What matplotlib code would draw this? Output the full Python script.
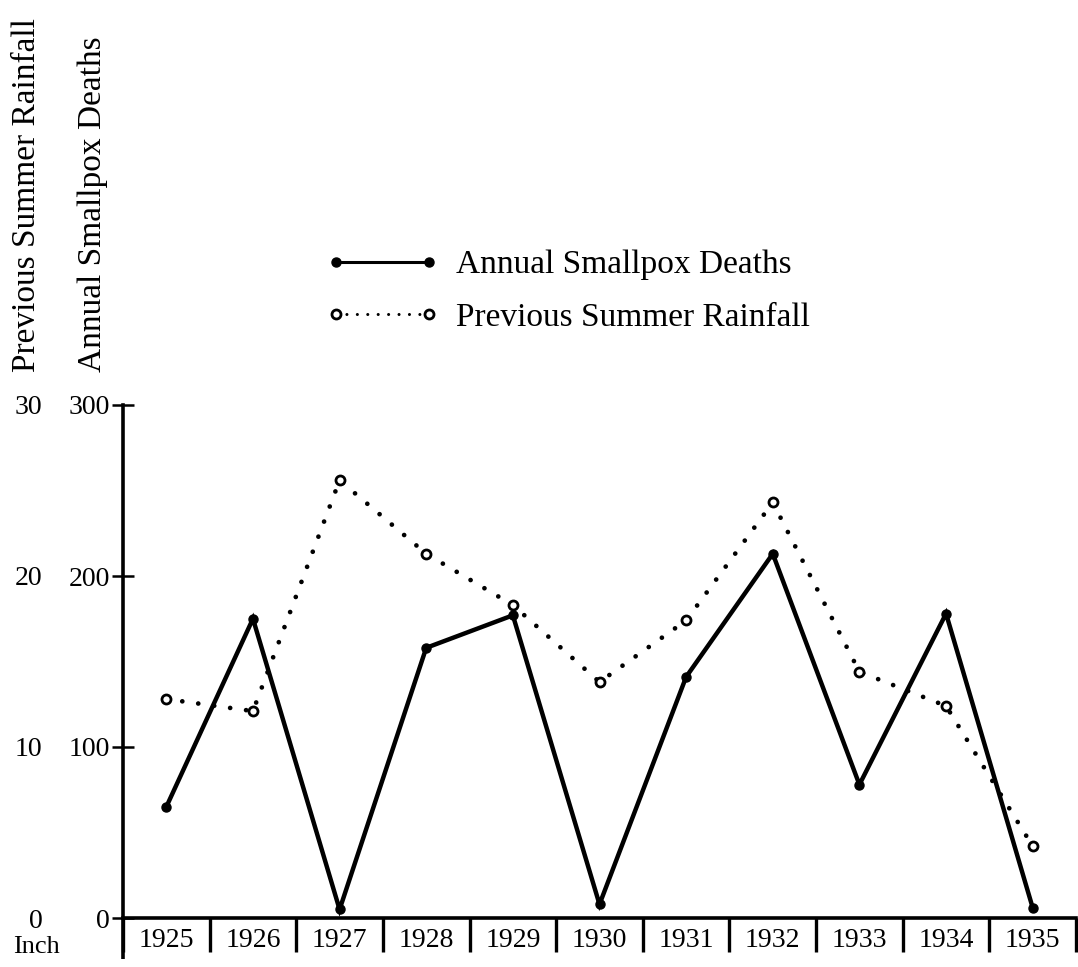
import matplotlib
matplotlib.use("Agg")
import matplotlib.pyplot as plt

years = ["1925", "1926", "1927", "1928", "1929", "1930", "1931", "1932", "1933", "1934", "1935"]
deaths = [65, 175, 5, 158, 177, 8, 141, 213, 78, 178, 6]
rainfall = [12.8, 12.1, 25.6, 21.3, 18.3, 13.8, 17.4, 24.3, 14.4, 12.4, 4.2]
death_ticks = [0, 100, 200, 300]
rain_ticks = [0, 10, 20, 30]

plt.rcParams['font.family'] = ['Liberation Serif', 'DejaVu Serif']

W, H = 1078, 967
fig = plt.figure(figsize=(W / 100, H / 100), dpi=100)
ax = fig.add_axes([123 / W, (H - 918) / H, (1076 - 123) / W, (918 - 405) / H])
ax2 = ax.twinx()

x = list(range(len(years)))

ln1, = ax.plot(x, deaths, color='black', lw=3.2, marker='o', ms=6.5,
               mfc='black', mec='black', solid_joinstyle='miter', zorder=3)
ln2, = ax2.plot(x, rainfall, color='black', lw=3.4, linestyle=(0, (0.01, 3.4)),
                dash_capstyle='round', marker='o', ms=6.5, mfc='white',
                mec='black', mew=2.0, zorder=4)

ax.set_xlim(-0.5, len(years) - 0.5)
ax.set_ylim(0, 300)
ax2.set_ylim(0, 30)

for s in ['top', 'right']:
    ax.spines[s].set_visible(False)
for s in ax2.spines.values():
    s.set_visible(False)
ax.spines['left'].set_linewidth(2.6)
ax.spines['bottom'].set_linewidth(2.6)

ax.set_yticks(death_ticks)
ax.set_yticklabels([str(v) for v in death_ticks])
ax.tick_params(axis='y', direction='inout', length=16, width=1.8, pad=1.5,
               labelsize=20)
ax.set_xticks(x)
ax.set_xticklabels(years)
ax.tick_params(axis='x', length=0, pad=7, labelsize=20)

ax2.yaxis.tick_left()
ax2.set_yticks(rain_ticks)
ax2.set_yticklabels([str(v) for v in rain_ticks])
ax2.tick_params(axis='y', length=0, pad=58, labelsize=20, right=False,
                labelright=False, left=True, labelleft=True)

# year box separators below the axis
sep_x = [i - 0.5 for i in range(len(years) + 1)]
ax.vlines(sep_x, -20, 0, colors='black', lw=2.4, clip_on=False)
ax.vlines([-0.5], -24, 0, colors='black', lw=2.6, clip_on=False)

# rotated axis titles
fig.text(27 / W, (H - 372) / H, "Previous Summer Rainfall", rotation=90,
         ha='center', va='bottom', fontsize=24)
fig.text(93 / W, (H - 372) / H, "Annual Smallpox Deaths", rotation=90,
         ha='center', va='bottom', fontsize=24)
fig.text(36 / W, (H - 947) / H, "Inch", ha='center', va='center', fontsize=19)

leg = fig.legend([ln1, ln2], ["Annual Smallpox Deaths", "Previous Summer Rainfall"],
                 loc='upper left', bbox_to_anchor=(326 / W, (H - 250) / H),
                 frameon=False, fontsize=24, numpoints=2, handlelength=3.4,
                 handletextpad=0.5, labelspacing=0.65, borderaxespad=0,
                 borderpad=0)
for h in leg.legend_handles:
    h.set_linewidth(2.2)

fig.savefig("out.png", dpi=100, facecolor='white')
